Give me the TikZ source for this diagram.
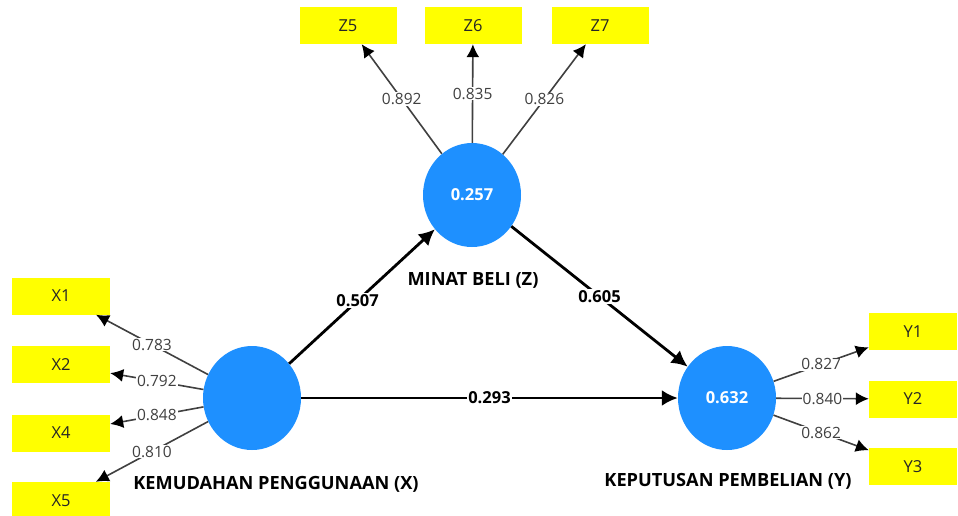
\documentclass[tikz,border=0pt]{standalone}
\usepackage{fontspec}
\setmainfont{Open Sans}
\usetikzlibrary{arrows.meta,shapes.geometric}
\definecolor{cblue}{RGB}{30,144,255}
\definecolor{cyel}{RGB}{255,255,0}
\definecolor{lgray}{RGB}{64,64,64}
\begin{document}
\begin{tikzpicture}[x=1pt,y=-1pt,
  lv/.style={ellipse,fill=cblue,minimum width=98pt,minimum height=104pt,inner sep=0pt,font=\bfseries\fontsize{16.5}{16.5}\selectfont,text=white},
  ibox/.style={fill=cyel,minimum width=97pt,minimum height=37pt,inner sep=0pt,font=\fontsize{16.5}{16.5}\selectfont,text=black!85},
  strc/.style={line width=2.8pt,-{Latex[length=16pt,width=16pt]}},
  load/.style={draw=lgray,line width=1.6pt,-{Latex[length=13pt,width=13pt,color=black]}},
  ll/.style={fill=white,inner sep=1pt,font=\fontsize{15.5}{15.5}\selectfont,text=lgray},
  sl/.style={fill=white,inner sep=1.5pt,font=\bfseries\fontsize{16.5}{16.5}\selectfont},
  cn/.style={font=\bfseries\fontsize{18.2}{18.2}\selectfont}
]
\useasboundingbox (0,0) rectangle (958,515);
\fill[white] (0,0) rectangle (958,515);

% latent variables
\node[lv] (Z) at (472,195) {0.257};
\node[lv] (X) at (252,398) {};
\node[lv] (Y) at (727,398) {0.632};

\node[cn] (Zn) at (473,280) {MINAT BELI (Z)};
\node[cn] (Xn) at (276,484) {KEMUDAHAN PENGGUNAAN (X)};
\node[cn] (Yn) at (728,481) {KEPUTUSAN PEMBELIAN (Y)};

% indicators
\node[ibox] (Z5) at (348,25.5) {Z5};
\node[ibox] (Z6) at (473,25.5) {Z6};
\node[ibox] (Z7) at (600,25.5) {Z7};

\node[ibox,minimum width=98pt] (X1) at (61,296) {X1};
\node[ibox,minimum width=98pt] (X2) at (61,364.5) {X2};
\node[ibox,minimum width=98pt] (X4) at (61,433) {X4};
\node[ibox,minimum width=98pt] (X5) at (61,500.5) {X5};

\node[ibox,minimum width=88pt] (Y1) at (913,331.5) {Y1};
\node[ibox,minimum width=88pt] (Y2) at (913,399) {Y2};
\node[ibox,minimum width=88pt] (Y3) at (913,466.5) {Y3};

% loadings
\draw[load] (Z) -- node[ll,pos=0.5] (lz5) {0.892} (Z5);
\draw[load] (Z) -- node[ll,pos=0.5] (lz6) {0.835} (Z6);
\draw[load] (Z) -- node[ll,pos=0.5] (lz7) {0.826} (Z7);

\draw[load] (X) -- node[ll,pos=0.5] (lx1) {0.783} (X1);
\draw[load] (X) -- node[ll,pos=0.5] (lx2) {0.792} (X2);
\draw[load] (X) -- node[ll,pos=0.5] (lx4) {0.848} (X4);
\draw[load] (X) -- node[ll,pos=0.5] (lx5) {0.810} (X5);

\draw[load] (Y) -- node[ll,pos=0.5] (ly1) {0.827} (Y1);
\draw[load] (Y) -- node[ll,pos=0.5] (ly2) {0.840} (Y2);
\draw[load] (Y) -- node[ll,pos=0.5] (ly3) {0.862} (Y3);

% structural paths
\draw[strc] (X) -- node[sl,pos=0.47] (pxz) {0.507} (Z);
\draw[strc] (Z) -- node[sl,pos=0.5] (pzy) {0.605} (Y);
\draw[strc] (X) -- node[sl,pos=0.5] (pxy) {0.293} (Y);
\end{tikzpicture}
\end{document}
